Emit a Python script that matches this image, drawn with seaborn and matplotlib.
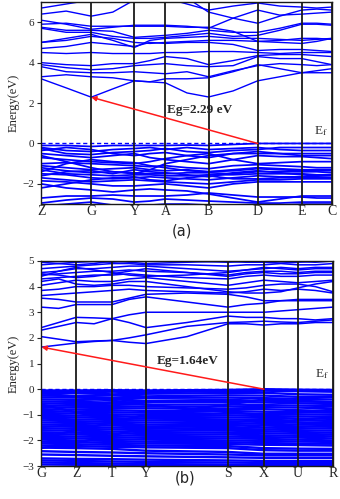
import pandas as pd
import matplotlib
matplotlib.use('Agg')
import matplotlib.pyplot as plt
import seaborn as sns

# ---------------------------------------------------------------------------
# Panel (a): high-symmetry path and band energies (eV)
# bands sampled at each symmetry point and halfway between neighbours
# ---------------------------------------------------------------------------
labels_a = ['Z', 'G', 'Y', 'A', 'B', 'D', 'E', 'C']
kpos_a = [0, 50, 93, 124, 167, 216, 260, 290]

cond_a = [
    [3.20, 2.75, 2.29, 2.70, 3.10, 3.05, 3.00, 2.50, 2.30, 2.60, 3.10, 3.30, 3.50, 3.50, 3.50],
    [3.30, 3.40, 3.30, 3.25, 3.10, 3.05, 3.20, 3.20, 3.25, 3.55, 3.90, 3.70, 3.50, 3.60, 3.70],
    [3.80, 3.55, 3.50, 3.50, 3.55, 3.50, 3.45, 3.55, 3.30, 3.60, 3.85, 3.95, 3.90, 3.85, 3.90],
    [3.90, 3.75, 3.65, 3.70, 3.85, 3.90, 3.95, 3.85, 3.80, 3.85, 4.30, 4.20, 4.20, 4.05, 3.90],
    [4.00, 3.90, 3.85, 3.95, 3.95, 4.10, 4.30, 4.20, 3.90, 4.10, 4.35, 4.40, 4.40, 4.35, 4.30],
    [4.50, 4.45, 4.50, 4.45, 4.45, 4.45, 4.50, 4.50, 4.55, 4.55, 4.50, 4.45, 4.50, 4.50, 4.50],
    [4.70, 4.80, 5.00, 4.90, 4.80, 5.00, 4.95, 5.00, 5.00, 4.90, 4.60, 4.65, 4.65, 4.60, 4.55],
    [5.00, 5.10, 5.30, 5.20, 5.00, 4.95, 5.00, 5.05, 5.10, 5.10, 5.05, 5.00, 4.95, 5.05, 5.20],
    [5.00, 5.20, 5.40, 5.10, 4.75, 5.10, 5.20, 5.25, 5.30, 5.20, 5.20, 5.15, 5.10, 5.15, 5.20],
    [5.70, 5.50, 5.50, 5.30, 5.20, 5.20, 5.25, 5.35, 5.45, 5.30, 5.35, 5.60, 5.90, 5.90, 5.85],
    [5.75, 5.60, 5.60, 5.55, 5.25, 5.30, 5.35, 5.45, 5.60, 5.50, 5.50, 5.70, 5.95, 5.95, 5.90],
    [6.10, 5.90, 5.65, 5.75, 5.85, 5.85, 5.85, 5.80, 5.70, 6.20, 6.60, 6.35, 6.40, 6.45, 6.50],
    [5.90, 5.95, 5.80, 5.80, 5.80, 5.80, 5.80, 5.75, 5.75, 5.55, 5.05, 5.10, 5.20, 5.20, 5.15],
    [6.40, 6.55, 6.30, 6.50, 7.10, 7.20, 7.10, 7.20, 6.50, 6.20, 5.95, 6.30, 6.60, 6.65, 6.60],
    [6.70, 6.90, 7.10, 7.20, 7.20, 7.20, 7.20, 6.90, 6.60, 6.80, 6.95, 6.80, 6.75, 6.70, 6.75],
]

val_a = [
    [-0.10, -0.10, -0.15, -0.10, -0.10, -0.10, -0.10, -0.08, -0.10, -0.05, 0.00, 0.00, 0.00, 0.00, 0.00],
    [-0.20, -0.35, -0.40, -0.30, -0.25, -0.20, -0.30, -0.20, -0.30, -0.25, -0.20, -0.30, -0.35, -0.35, -0.35],
    [-0.35, -0.20, -0.30, -0.50, -0.60, -0.50, -0.45, -0.60, -0.70, -0.50, -0.40, -0.50, -0.60, -0.60, -0.60],
    [-0.50, -0.60, -0.70, -0.60, -0.50, -0.70, -0.80, -0.90, -1.00, -0.80, -0.60, -0.65, -0.65, -0.70, -0.75],
    [-0.70, -0.80, -0.90, -0.95, -1.00, -0.90, -0.75, -0.60, -0.50, -0.80, -1.00, -0.95, -0.90, -0.90, -0.90],
    [-1.00, -0.95, -1.00, -1.05, -1.10, -1.15, -1.10, -1.20, -1.25, -1.10, -1.05, -1.10, -1.15, -1.20, -1.20],
    [-1.10, -1.20, -1.30, -1.25, -1.20, -1.30, -1.35, -1.30, -1.40, -1.35, -1.25, -1.30, -1.35, -1.35, -1.35],
    [-1.20, -1.35, -1.45, -1.40, -1.45, -1.50, -1.50, -1.45, -1.45, -1.50, -1.40, -1.40, -1.40, -1.40, -1.45],
    [-1.30, -1.50, -1.55, -1.60, -1.55, -1.55, -1.60, -1.60, -1.55, -1.55, -1.50, -1.50, -1.50, -1.55, -1.55],
    [-1.50, -1.55, -1.70, -1.75, -1.70, -1.65, -1.70, -1.75, -1.80, -1.70, -1.60, -1.65, -1.65, -1.65, -1.70],
    [-1.70, -1.80, -1.90, -1.85, -1.80, -1.85, -1.90, -1.95, -2.00, -1.90, -1.80, -1.80, -1.75, -1.75, -1.75],
    [-1.85, -1.90, -2.00, -2.10, -2.10, -2.05, -2.00, -2.10, -2.20, -2.00, -1.90, -1.90, -1.90, -1.90, -1.90],
    [-2.00, -2.20, -2.30, -2.40, -2.30, -2.25, -2.30, -2.35, -2.50, -2.70, -2.90, -2.75, -2.60, -2.60, -2.60],
    [-2.70, -2.60, -2.60, -2.55, -2.60, -2.60, -2.60, -2.55, -2.45, -2.55, -2.65, -2.65, -2.65, -2.70, -2.70],
    [-2.95, -2.80, -2.70, -2.75, -2.90, -2.85, -2.75, -2.80, -2.85, -2.90, -2.95, -2.95, -2.90, -2.90, -2.90],
    [-1.40, -1.00, -0.80, -0.90, -0.95, -1.10, -1.20, -1.35, -1.40, -1.30, -1.20, -1.25, -1.30, -1.30, -1.30],
    [-0.60, -0.90, -1.20, -1.40, -1.50, -1.30, -1.00, -0.80, -0.60, -0.50, -0.50, -0.50, -0.50, -0.50, -0.50],
    [-2.20, -2.00, -1.80, -1.70, -1.65, -1.80, -1.85, -1.70, -1.60, -1.75, -1.75, -1.70, -1.70, -1.70, -1.70],
    [-0.25, -0.50, -0.55, -0.45, -0.40, -0.35, -0.25, -0.40, -0.45, -0.35, -0.30, -0.20, -0.20, -0.20, -0.20],
    [-1.60, -1.40, -1.35, -1.50, -1.30, -1.40, -1.45, -1.55, -1.65, -1.45, -1.35, -1.45, -1.55, -1.60, -1.60],
    [-3.10, -3.00, -2.90, -3.05, -3.10, -3.05, -3.00, -3.00, -3.05, -3.10, -3.10, -3.05, -3.00, -3.00, -3.00],
]
gap_a = 2.29

# ---------------------------------------------------------------------------
# Panel (b)
# ---------------------------------------------------------------------------
labels_b = ['G', 'Z', 'T', 'Y', 'S', 'X', 'U', 'R']
kpos_b = [0, 35, 71, 105, 187, 223, 257, 292]

cond_b = [
    [1.64, 1.72, 1.80, 1.86, 1.90, 1.83, 1.78, 2.05, 2.55, 2.55, 2.50, 2.55, 2.55, 2.60, 2.60],
    [2.05, 1.95, 1.85, 1.88, 1.90, 2.00, 2.12, 2.45, 2.60, 2.62, 2.65, 2.62, 2.60, 2.65, 2.70],
    [2.30, 2.45, 2.60, 2.55, 2.75, 2.60, 2.40, 2.60, 2.85, 2.80, 2.80, 2.75, 2.75, 2.70, 2.75],
    [2.40, 2.60, 2.80, 2.78, 2.75, 2.90, 3.00, 3.00, 3.00, 3.00, 3.00, 3.05, 3.10, 3.15, 3.20],
    [3.20, 3.15, 3.30, 3.30, 3.30, 3.50, 3.60, 3.40, 3.20, 3.30, 3.35, 3.45, 3.50, 3.50, 3.50],
    [3.55, 3.50, 3.40, 3.40, 3.40, 3.55, 3.70, 3.75, 3.70, 3.60, 3.45, 3.45, 3.45, 3.45, 3.45],
    [3.65, 3.70, 3.75, 3.80, 3.85, 3.90, 3.85, 3.80, 3.75, 3.80, 3.90, 3.85, 3.90, 3.85, 3.75],
    [3.85, 3.90, 4.00, 4.00, 4.05, 4.05, 4.00, 3.95, 3.90, 3.95, 4.05, 4.10, 4.10, 4.00, 3.80],
    [4.05, 4.15, 4.25, 4.20, 4.20, 4.30, 4.35, 4.20, 4.05, 4.15, 4.25, 4.20, 4.15, 4.20, 4.25],
    [4.20, 4.30, 4.10, 4.05, 4.10, 4.20, 4.20, 4.00, 3.80, 3.75, 3.75, 3.80, 3.95, 4.10, 4.20],
    [4.30, 4.35, 4.40, 4.45, 4.45, 4.50, 4.45, 4.35, 4.30, 4.40, 4.45, 4.40, 4.40, 4.45, 4.45],
    [4.45, 4.50, 4.55, 4.60, 4.60, 4.65, 4.60, 4.55, 4.45, 4.55, 4.60, 4.60, 4.55, 4.60, 4.60],
    [4.55, 4.60, 4.70, 4.70, 4.75, 4.80, 4.80, 4.70, 4.60, 4.65, 4.70, 4.75, 4.70, 4.75, 4.75],
    [4.70, 4.75, 4.80, 4.85, 4.90, 4.90, 4.85, 4.85, 4.80, 4.85, 4.85, 4.90, 4.85, 4.85, 4.90],
    [4.85, 4.90, 4.95, 4.98, 4.95, 5.00, 5.05, 5.00, 4.95, 4.98, 5.00, 5.00, 4.98, 4.95, 5.00],
    [4.95, 4.90, 4.85, 4.90, 5.00, 4.95, 4.90, 4.95, 5.00, 4.95, 4.95, 4.92, 4.95, 5.00, 5.05],
    [4.50, 4.45, 4.35, 4.40, 4.50, 4.60, 4.70, 4.55, 4.40, 4.50, 4.55, 4.50, 4.50, 4.55, 4.55],
    [4.40, 4.60, 4.75, 4.65, 4.55, 4.45, 4.40, 4.45, 4.55, 4.65, 4.75, 4.70, 4.65, 4.70, 4.70],
]

# valence bands of (b), sampled at the symmetry points only
val_b = [
    [-0.05, -0.05, -0.04, -0.05, -0.03, 0.00, -0.02, -0.03],
    [-0.10, -0.12, -0.10, -0.12, -0.08, -0.06, -0.08, -0.10],
    [-0.18, -0.16, -0.20, -0.18, -0.15, -0.14, -0.20, -0.22],
    [-0.25, -0.27, -0.25, -0.28, -0.24, -0.25, -0.30, -0.30],
    [-0.32, -0.33, -0.35, -0.34, -0.33, -0.35, -0.38, -0.40],
    [-0.40, -0.42, -0.40, -0.45, -0.42, -0.45, -0.48, -0.50],
    [-0.48, -0.50, -0.52, -0.50, -0.50, -0.52, -0.55, -0.58],
    [-0.55, -0.58, -0.57, -0.60, -0.60, -0.62, -0.64, -0.66],
    [-0.63, -0.65, -0.66, -0.68, -0.68, -0.70, -0.72, -0.75],
    [-0.70, -0.72, -0.74, -0.75, -0.77, -0.78, -0.82, -0.85],
    [-0.78, -0.80, -0.82, -0.85, -0.85, -0.88, -0.90, -0.92],
    [-0.85, -0.88, -0.90, -0.92, -0.95, -0.96, -0.98, -1.00],
    [-0.93, -0.95, -0.98, -1.00, -1.02, -1.05, -1.06, -1.08],
    [-1.00, -1.03, -1.05, -1.08, -1.10, -1.12, -1.14, -1.16],
    [-1.08, -1.10, -1.13, -1.15, -1.18, -1.20, -1.22, -1.24],
    [-1.15, -1.18, -1.20, -1.22, -1.25, -1.28, -1.30, -1.32],
    [-1.22, -1.25, -1.28, -1.30, -1.33, -1.35, -1.38, -1.40],
    [-1.30, -1.32, -1.35, -1.38, -1.40, -1.42, -1.45, -1.47],
    [-1.38, -1.40, -1.42, -1.45, -1.48, -1.50, -1.52, -1.54],
    [-1.45, -1.47, -1.50, -1.52, -1.55, -1.57, -1.60, -1.62],
    [-1.52, -1.55, -1.57, -1.60, -1.62, -1.64, -1.67, -1.70],
    [-1.60, -1.62, -1.65, -1.67, -1.70, -1.72, -1.74, -1.77],
    [-1.68, -1.70, -1.72, -1.75, -1.77, -1.80, -1.82, -1.84],
    [-1.75, -1.77, -1.80, -1.82, -1.85, -1.87, -1.89, -1.92],
    [-1.82, -1.85, -1.87, -1.90, -1.92, -1.94, -1.97, -2.00],
    [-1.90, -1.92, -1.95, -1.97, -2.00, -2.02, -2.04, -2.06],
    [-1.97, -2.00, -2.02, -2.05, -2.07, -2.10, -2.12, -2.13],
    [-2.05, -2.07, -2.10, -2.12, -2.14, -2.17, -2.18, -2.20],
    [-2.12, -2.15, -2.17, -2.20, -2.22, -2.30, -2.32, -2.33],
    [-2.20, -2.22, -2.25, -2.27, -2.30, -2.38, -2.40, -2.40],
    [-2.28, -2.30, -2.33, -2.40, -2.45, -2.52, -2.52, -2.52],
    [-2.42, -2.45, -2.47, -2.50, -2.55, -2.58, -2.58, -2.58],
    [-2.55, -2.57, -2.60, -2.62, -2.66, -2.68, -2.68, -2.68],
    [-2.70, -2.72, -2.73, -2.75, -2.78, -2.80, -2.80, -2.80],
    [-2.78, -2.80, -2.82, -2.84, -2.86, -2.88, -2.88, -2.88],
    [-2.86, -2.88, -2.90, -2.92, -2.94, -2.95, -2.95, -2.95],
    [-2.94, -2.95, -2.97, -2.98, -2.99, -3.00, -3.00, -3.00],
    [-0.15, -0.30, -0.45, -0.60, -0.90, -1.00, -0.90, -0.80],
    [-1.90, -1.60, -1.30, -1.00, -0.60, -0.40, -0.45, -0.50],
    [-0.60, -0.90, -1.20, -1.50, -1.60, -1.40, -1.20, -1.10],
    [-2.30, -2.10, -1.80, -1.50, -1.30, -1.20, -1.30, -1.40],
]
gap_b = 1.64


def with_midpoints(kpos):
    out = []
    for i in range(len(kpos) - 1):
        out += [kpos[i], (kpos[i] + kpos[i + 1]) / 2]
    return out + [kpos[-1]]


def band_frame(bands, kgrid):
    rows = []
    for b, energies in enumerate(bands):
        for k, e in zip(kgrid, energies):
            rows.append({'k': k, 'E': e, 'band': b})
    return pd.DataFrame(rows)


def draw_bands(ax, df, lw):
    sns.lineplot(data=df, x='k', y='E', units='band', estimator=None, sort=False,
                 color='#0000ff', lw=lw, ax=ax, legend=False)


sns.set_style('ticks')
plt.rcParams['font.family'] = ['Liberation Serif', 'DejaVu Serif']
plt.rcParams['mathtext.fontset'] = 'stix'

fig = plt.figure(figsize=(3.40, 4.99), dpi=100)
ax_a = fig.add_axes([0.121, 0.591, 0.855, 0.405])
ax_b = fig.add_axes([0.121, 0.066, 0.858, 0.411])

draw_bands(ax_a, band_frame(cond_a, with_midpoints(kpos_a)), 1.0)
draw_bands(ax_a, band_frame(val_a, with_midpoints(kpos_a)), 1.25)
draw_bands(ax_b, band_frame(cond_b, with_midpoints(kpos_b)), 1.1)
draw_bands(ax_b, band_frame(val_b, kpos_b), 1.7)

panels = [
    (ax_a, labels_a, kpos_a, (-3, 7), [-2, 0, 2, 4, 6], gap_a, 'D', 'Eg=2.29 eV', (158, 1.68), 0.25),
    (ax_b, labels_b, kpos_b, (-3, 5), [-3, -2, -1, 0, 1, 2, 3, 4, 5], gap_b, 'X', 'Eg=1.64eV', (147, 1.10), 0.32),
]

for ax, labels, kpos, ylim, yticks, gap, vbm, eg_text, eg_xy, ef_y in panels:
    for k in kpos:
        ax.axvline(k, color='#1a1a1a', lw=1.3, zorder=3)
    ax.axhline(0, color='#0000ff', lw=1.0, ls=(0, (3, 2)), zorder=2)
    ax.set_xlim(kpos[0], kpos[-1])
    ax.set_ylim(*ylim)
    ax.set_xticks(kpos)
    ax.set_xticklabels(labels, fontsize=10)
    ax.set_yticks(yticks)
    ax.set_yticklabels([str(t).replace('-', '\u2212') for t in yticks], fontsize=8)
    ax.tick_params(axis='x', length=0, pad=1)
    ax.tick_params(axis='y', length=3, width=0.8, pad=2, direction='out')
    ax.set_xlabel('')
    ax.set_ylabel('Energy(eV)', fontsize=9, labelpad=2)
    for s in ax.spines.values():
        s.set_color('#1a1a1a')
        s.set_linewidth(1.0)
    kv = kpos[labels.index(vbm)]
    k_cbm = kpos[0] + 0.5 if ax is ax_b else kpos[1]
    ax.annotate('', xy=(k_cbm, gap), xytext=(kv, 0.0),
                arrowprops=dict(arrowstyle='-|>', color='#ff1a1a', lw=1.1,
                                mutation_scale=7, shrinkA=0, shrinkB=0), zorder=5)
    ax.text(eg_xy[0], eg_xy[1], eg_text, fontsize=9.5, fontweight='bold',
            ha='center', va='center', zorder=6)
    ax.text(kpos[-1] - 4, ef_y, r'E$_\mathrm{f}$', fontsize=9.5, ha='right', va='bottom',
            color='#333333', zorder=6)

fig.text(0.535, 0.537, '(a)', fontsize=10.5, ha='center', va='center', family='DejaVu Sans')
fig.text(0.544, 0.042, '(b)', fontsize=10.5, ha='center', va='center', family='DejaVu Sans')

fig.savefig('out.png', dpi=100)
